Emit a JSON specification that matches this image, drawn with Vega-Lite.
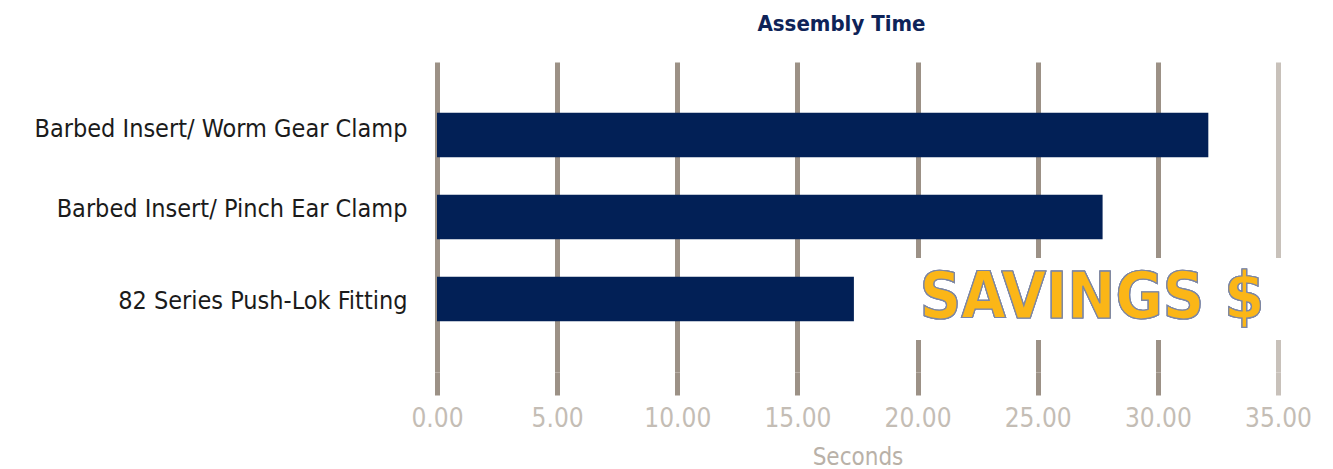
{
  "$schema": "https://vega.github.io/schema/vega-lite/v6.json",
  "width": 841,
  "height": 310,
  "autosize": {"type": "none"},
  "padding": {"left": 437, "top": 62, "right": 55, "bottom": 97},
  "background": "white",
  "config": {"view": {"stroke": null}},
  "title": {"text": "Assembly Time", "color": "#0e2358", "fontSize": 22, "font": "DejaVu Sans Condensed", "fontWeight": "bold", "offset": 26, "dx": -16},
  "data": {"values": [
    {"fitting": "Barbed Insert/ Worm Gear Clamp", "seconds": 32.1},
    {"fitting": "Barbed Insert/ Pinch Ear Clamp", "seconds": 27.7},
    {"fitting": "82 Series Push-Lok Fitting", "seconds": 17.35}
  ]},
  "encoding": {
    "y": {"field": "fitting", "type": "nominal", "sort": null,
      "scale": {"paddingInner": 0.46, "paddingOuter": 0.62},
      "axis": {"title": null, "ticks": false, "domain": false, "grid": false, "labelPadding": 30, "labelFontSize": 25, "labelFont": "DejaVu Sans Condensed", "labelColor": "#1b1b1b", "labelLimit": 500,
        "labelOffset": {"condition": [
          {"test": "datum.value == 'Barbed Insert/ Worm Gear Clamp'", "value": -6},
          {"test": "datum.value == 'Barbed Insert/ Pinch Ear Clamp'", "value": -8}
        ], "value": 2}}}
  },
  "layer": [
    {
      "mark": {"type": "bar", "color": "#022056"},
      "encoding": {
        "x": {"field": "seconds", "type": "quantitative",
          "scale": {"domain": [0, 35], "nice": false},
          "axis": {"title": "Seconds", "format": ".2f", "values": [0,5,10,15,20,25,30,35], "domain": false,
            "grid": true, "gridWidth": 5, "labelFlush": false, "labelOverlap": false,
            "gridColor": {"condition": {"test": "datum.value == 35", "value": "#c8c1ba"}, "value": "#9c9186"},
            "tickColor": {"condition": {"test": "datum.value == 35", "value": "#c8c1ba"}, "value": "#9c9186"},
            "tickWidth": 5, "tickSize": 23, "labelPadding": 10,
            "labelFontSize": 26, "labelFont": "DejaVu Sans Condensed", "labelColor": "#c4bdb5",
            "titleFontSize": 24, "titleFont": "DejaVu Sans Condensed", "titleFontWeight": "normal", "titleColor": "#b9b1a8", "titlePadding": 14}}
      }
    },
    {
      "mark": {"type": "rect", "color": "white", "height": 82},
      "encoding": {
        "x": {"datum": 19.85, "type": "quantitative"},
        "x2": {"datum": 35.3},
        "y": {"datum": "82 Series Push-Lok Fitting"}
      }
    },
    {
      "mark": {"type": "text", "text": "SAVINGS $", "font": "DejaVu Sans Condensed", "fontWeight": "bold", "fontSize": 64, "fill": "#fbb617", "stroke": "#7b86a6", "strokeWidth": 1.2, "align": "center", "baseline": "middle"},
      "encoding": {
        "x": {"datum": 27.26, "type": "quantitative"},
        "y": {"datum": "82 Series Push-Lok Fitting"}
      }
    }
  ]
}
